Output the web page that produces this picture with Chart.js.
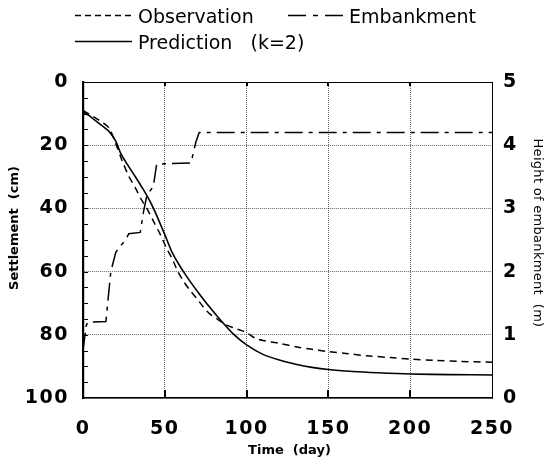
<!DOCTYPE html>
<html>
<head>
<meta charset="utf-8">
<script src="https://cdn.jsdelivr.net/npm/chart.js@4/dist/chart.umd.min.js"></script>
<style>
  html, body { margin: 0; padding: 0; background: #fff; }
  #wrap { width: 548px; height: 464px; }
</style>
</head>
<body>
<div id="wrap"><canvas id="c" width="548" height="464"></canvas></div>
<script>
// Measured settlement (cm) against time (day)
const obsDay = [0, 4, 8, 12, 16, 20, 24, 28, 32, 36, 39, 43, 47, 51, 55, 58, 62, 66, 70, 74, 78, 82, 87, 92, 96, 100, 105, 110, 115, 120, 130, 140, 150, 162, 175, 188, 200, 215, 230, 250];
const obsCm  = [9, 10.2, 11.5, 12.8, 14.6, 19.5, 25, 29.8, 33.5, 37.5, 40, 44, 48, 52.5, 56.5, 60, 63.5, 66.3, 68.8, 71.5, 73.6, 75, 76.7, 77.8, 78.5, 79.3, 81, 81.8, 82.3, 82.7, 83.8, 84.6, 85.3, 86, 86.7, 87.2, 87.7, 88.1, 88.4, 88.7];

// Predicted settlement (cm), k = 2
const predDay = [0, 4, 7, 12, 16, 20, 23, 27, 32, 36, 40, 44, 50, 55, 61, 66, 71, 77, 84, 92, 100, 110, 120, 130, 140, 150, 165, 180, 200, 225, 250];
const predCm  = [9.4, 10.7, 12, 14, 15.7, 18.7, 22.5, 26, 30, 33.3, 36.8, 41, 48.3, 54.5, 59.7, 63.5, 67, 71, 75.3, 79.8, 83.2, 86.2, 88, 89.3, 90.3, 91, 91.6, 92, 92.4, 92.6, 92.7];

// Embankment height (m), staged filling
const embDay = [0, 2, 3, 14, 17, 20, 22, 26, 28, 35, 37, 39, 43, 45, 66, 69, 71, 250];
const embM   = [0.75, 1.15, 1.2, 1.21, 2.0, 2.3, 2.38, 2.5, 2.6, 2.62, 2.95, 3.2, 3.35, 3.7, 3.72, 4.05, 4.2, 4.2];

const seriesLabels = ['Observation', 'Embankment', 'Prediction   (k=2)'];
const xTitle = 'Time  (day)';
const yTitle = 'Settlement  (cm)';
const y1Title = 'Height of embankment  (m)';

const FONT = "'DejaVu Sans', 'Liberation Sans', sans-serif";
const toPts = (xs, ys) => xs.map((x, i) => ({ x, y: ys[i] }));

// Frame, inward ticks, axis titles and legend
const decor = {
  id: 'decor',
  beforeDraw(chart) { chart.ctx.letterSpacing = '1.5px'; },
  afterDraw(chart) {
    const { ctx, chartArea: a, scales } = chart;
    ctx.save();
    ctx.letterSpacing = '0px';
    ctx.strokeStyle = '#000';
    ctx.fillStyle = '#000';
    const seg = (x1, y1, x2, y2) => { ctx.beginPath(); ctx.moveTo(x1, y1); ctx.lineTo(x2, y2); ctx.stroke(); };

    // top edge of the plot
    ctx.lineWidth = 1;
    seg(a.left, a.top + 0.5, a.right, a.top + 0.5);

    // minor ticks on the settlement axis
    for (let v = 5; v < 100; v += 5) {
      const py = Math.round(scales.y.getPixelForValue(v)) + 0.5;
      seg(a.left, py, a.left + 5, py);
    }
    // inward time ticks
    ctx.lineWidth = 2;
    for (let v = 50; v < 250; v += 50) {
      const px = Math.round(scales.x.getPixelForValue(v));
      seg(px, a.bottom, px, a.bottom - 8);
      seg(px, a.top, px, a.top + 4);
    }

    // axis titles
    ctx.textAlign = 'center';
    ctx.textBaseline = 'middle';
    ctx.font = 'bold 13px ' + FONT;
    ctx.fillText(xTitle, (a.left + a.right) / 2 + 2, 451);
    ctx.save();
    ctx.translate(15, 228);
    ctx.rotate(-Math.PI / 2);
    ctx.fillText(yTitle, 0, 0);
    ctx.restore();
    ctx.save();
    ctx.translate(537, 233);
    ctx.rotate(Math.PI / 2);
    ctx.font = '13px ' + FONT;
    ctx.letterSpacing = '0.3px';
    ctx.fillText(y1Title, 0, 0);
    ctx.restore();

    // legend
    const slots = [
      { x: 75, y: 15, w: 58, tx: 138, ty: 23 },
      { x: 288, y: 15, w: 55, tx: 349, ty: 23 },
      { x: 75, y: 41, w: 57, tx: 138, ty: 49 }
    ];
    ctx.textAlign = 'left';
    ctx.textBaseline = 'alphabetic';
    ctx.font = '19px ' + FONT;
    chart.data.datasets.forEach((ds, i) => {
      const s = slots[i];
      ctx.save();
      ctx.lineWidth = ds.borderWidth;
      ctx.setLineDash(ds.legendDash || ds.borderDash || []);
      seg(s.x, s.y + 0.5, s.x + s.w, s.y + 0.5);
      ctx.restore();
      ctx.fillText(ds.label, s.tx, s.ty);
    });
    ctx.restore();
  }
};

const tickFont = { family: FONT, size: 19, weight: 'bold' };

new Chart(document.getElementById('c'), {
  type: 'line',
  data: {
    datasets: [
      {
        label: seriesLabels[0],
        data: toPts(obsDay, obsCm),
        yAxisID: 'y',
        borderColor: '#000',
        borderWidth: 1.5,
        borderDash: [7, 5],
        legendDash: [6, 4],
        pointRadius: 0,
        tension: 0.3
      },
      {
        label: seriesLabels[1],
        data: toPts(embDay, embM),
        yAxisID: 'y1',
        borderColor: '#000',
        borderWidth: 1.5,
        borderDash: [18, 6, 4, 6],
        legendDash: [18, 7, 5, 7],
        pointRadius: 0,
        tension: 0
      },
      {
        label: seriesLabels[2],
        data: toPts(predDay, predCm),
        yAxisID: 'y',
        borderColor: '#000',
        borderWidth: 1.6,
        pointRadius: 0,
        tension: 0.3
      }
    ]
  },
  options: {
    responsive: false,
    animation: false,
    events: [],
    devicePixelRatio: 1,
    layout: { padding: { top: 82, left: 0, right: 0, bottom: 0 } },
    plugins: { legend: { display: false }, tooltip: { enabled: false } },
    scales: {
      x: {
        type: 'linear',
        min: 0, max: 250,
        afterFit(s) { s.height = 66; },
        ticks: { stepSize: 50, color: '#000', font: tickFont, padding: 20, maxRotation: 0 },
        grid: { color: 'rgba(0,0,0,0.6)', lineWidth: 1, drawTicks: false },
        border: { display: true, color: '#000', width: 1.5, dash: [1, 1] }
      },
      y: {
        position: 'left',
        reverse: true,
        min: 0, max: 100,
        afterFit(s) { s.width = 83; },
        ticks: { stepSize: 20, color: '#000', font: tickFont, padding: 14 },
        grid: { color: 'rgba(0,0,0,0.6)', lineWidth: 1, drawTicks: false },
        border: { display: true, color: '#000', width: 2.2, dash: [1, 1] }
      },
      y1: {
        position: 'right',
        min: 0, max: 5,
        afterFit(s) { s.width = 56; },
        ticks: { stepSize: 1, color: '#000', font: tickFont, padding: 11 },
        grid: { drawOnChartArea: false, drawTicks: false },
        border: { display: true, color: '#000', width: 1 }
      }
    }
  },
  plugins: [decor]
});
</script>
</body>
</html>
